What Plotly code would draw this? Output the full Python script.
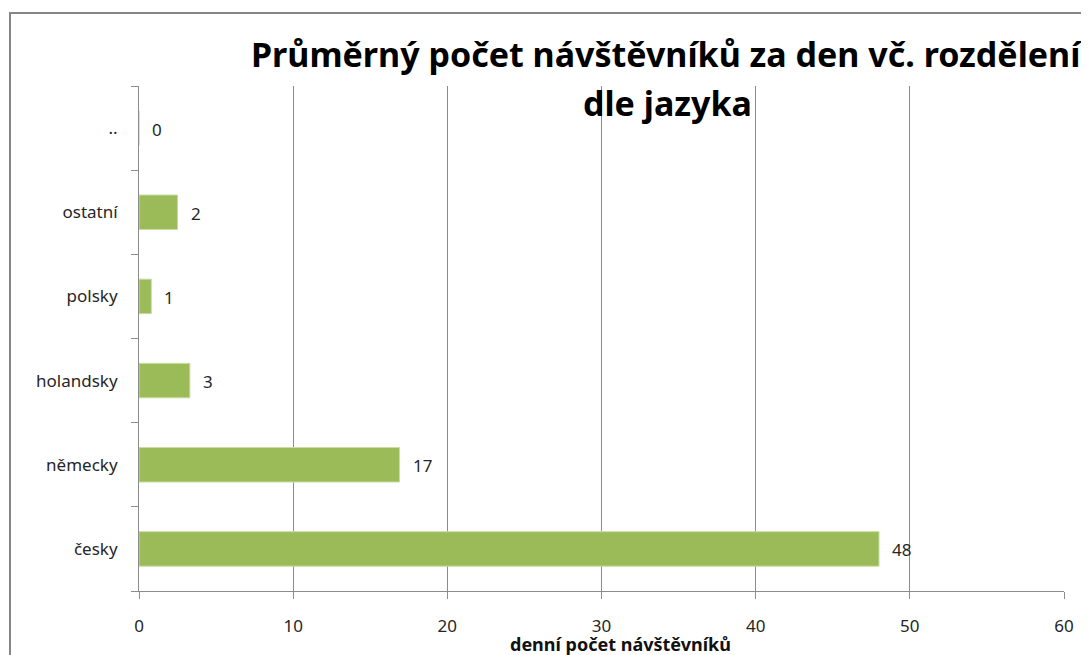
import plotly.graph_objects as go

categories = ["česky", "německy", "holandsky", "polsky", "ostatní", ".."]
values = [48.0, 16.9, 3.3, 0.8, 2.5, 0.0]
labels = ["48", "17", "3", "1", "2", "0"]
x_ticks = [0, 10, 20, 30, 40, 50, 60]

title_lines = ["Průměrný počet návštěvníků za den vč. rozdělení", "dle jazyka"]
x_title = "denní počet návštěvníků"

OFF = 8  # browser body margin
W, H = 1089 - OFF, 655 - OFF
L, R, T, B = 139 - OFF, 25, 86 - OFF, 655 - 591
pw, ph = W - L - R, H - T - B

def px_x(p):
    return (p - OFF - L) / pw

def px_y(p):
    return 1 - (p - OFF - T) / ph

FONT = "Noto Sans"
GRID = "#8c8c8c"
TXT = "#262626"

fig = go.Figure()
fig.add_trace(go.Bar(
    x=values, y=categories, orientation="h",
    marker=dict(color="#9BBB59", line=dict(color="#c9dca4", width=1)),
    width=0.41, hoverinfo="skip",
))

for v, c, t in zip(values, categories, labels):
    fig.add_annotation(x=v, y=c, xref="x", yref="y", text=t, showarrow=False,
                       xanchor="left", xshift=11, yshift=-1,
                       font=dict(family=FONT, size=17, color=TXT))

fig.add_annotation(x=px_x(620), y=px_y(644), xref="paper", yref="paper",
                   text="<b>" + x_title + "</b>", showarrow=False,
                   xanchor="center", yanchor="middle",
                   font=dict(family=FONT, size=18, color="#111111"))

for i, (line, yc) in enumerate(zip(title_lines, [54, 103])):
    fig.add_annotation(x=px_x(667), y=px_y(yc), xref="paper", yref="paper",
                       text="<b>" + line + "</b>", showarrow=False,
                       xanchor="center", yanchor="middle",
                       font=dict(family=FONT, size=34, color="#000000"))

# outer chart border
fig.add_shape(type="rect", xref="paper", yref="paper",
              x0=px_x(10), x1=px_x(1110), y0=px_y(720), y1=px_y(13),
              line=dict(color="#868686", width=2), fillcolor="rgba(0,0,0,0)", layer="below")

fig.update_layout(
    width=W, height=H,
    margin=dict(l=L, r=R, t=T, b=B, autoexpand=False),
    paper_bgcolor="white", plot_bgcolor="white",
    showlegend=False,
    font=dict(family=FONT, size=17, color=TXT),
    xaxis=dict(range=[0, 60], tickvals=x_ticks, showgrid=True, gridcolor=GRID, gridwidth=1,
               showline=True, linecolor=GRID, linewidth=1, ticks="outside", ticklen=7,
               tickcolor=GRID, zeroline=False, ticklabelstandoff=13,
               tickfont=dict(family=FONT, size=17, color=TXT), fixedrange=True),
    yaxis=dict(type="category", categoryorder="array", categoryarray=categories,
               showline=True, linecolor=GRID, linewidth=1, ticks="outside", ticklen=7,
               tickcolor=GRID, tickson="boundaries", showgrid=False,
               ticklabelstandoff=17,
               tickfont=dict(family=FONT, size=17, color=TXT), fixedrange=True),
)

fig.write_html("out.html")
